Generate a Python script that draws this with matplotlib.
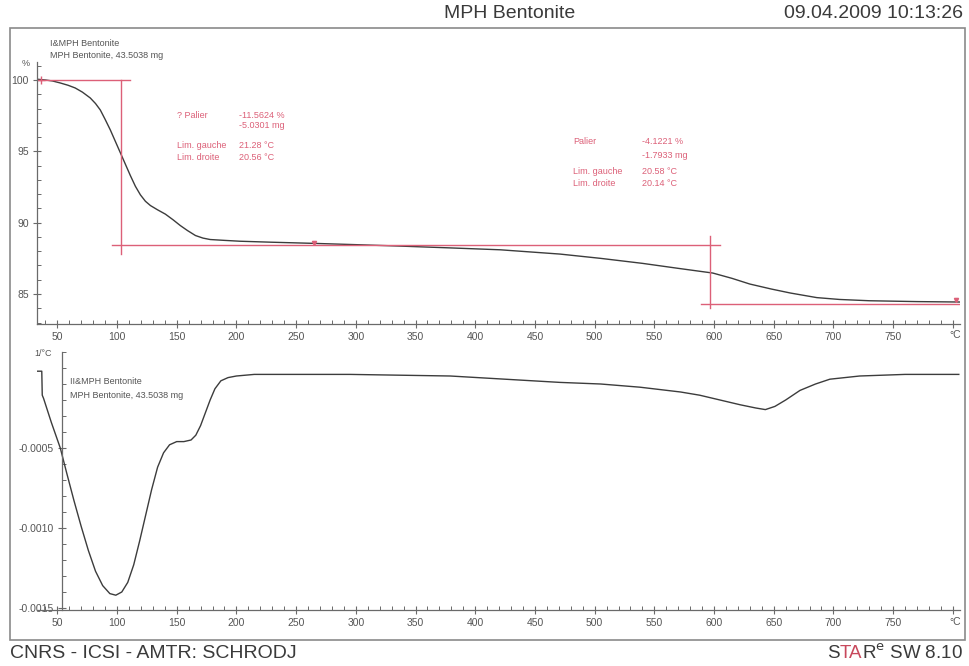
import numpy as np
import matplotlib
matplotlib.use("Agg")
from matplotlib import pyplot as plt
from matplotlib.patches import Rectangle
from matplotlib.ticker import MultipleLocator, FixedLocator

# TGA curve (temperature in degC, mass in %)
tga_t = [33.5, 40, 46, 52.5, 59, 65, 71, 77.6, 82, 86, 90, 94.4, 98.6, 102.8, 107,
         111.2, 115.4, 119.6, 123.8, 128, 134, 140.5, 147, 153, 159, 165.7, 172, 178,
         190, 203, 230, 265, 300, 337, 380, 421, 471, 505, 540, 570, 599, 615, 630,
         648, 664, 686, 705, 730, 770, 806]
tga_v = [100.05, 100.0, 99.93, 99.79, 99.63, 99.44, 99.15, 98.74, 98.35, 97.9, 97.25,
         96.5, 95.7, 94.9, 94.1, 93.3, 92.55, 91.95, 91.5, 91.2, 90.9, 90.6, 90.2,
         89.8, 89.45, 89.1, 88.92, 88.82, 88.76, 88.7, 88.63, 88.55, 88.46, 88.36,
         88.23, 88.1, 87.8, 87.5, 87.15, 86.8, 86.47, 86.1, 85.7, 85.35, 85.07, 84.75,
         84.62, 84.53, 84.47, 84.44]

# DTG curve (temperature in degC, 1/degC)
dtg_t = [33.5, 37, 37.4, 38.5, 45, 52.5, 58, 64, 70, 76, 82, 88, 94, 99, 104, 109,
         114, 119, 124, 129, 134, 139, 144, 150, 156, 162, 166, 170, 174, 178, 182,
         187, 193, 200, 215, 250, 295, 379, 471, 505, 538, 572, 588, 605, 622, 635,
         643, 651, 660, 672, 685, 697, 722, 760, 805]
dtg_v = [-0.00002, -0.00002, -0.00017, -0.00019, -0.00034, -0.0005, -0.00066, -0.00083,
         -0.00099, -0.00114, -0.00127, -0.00136, -0.00141, -0.00142, -0.0014, -0.00134,
         -0.00123, -0.00108, -0.00092, -0.00076, -0.00062, -0.00053, -0.00048, -0.00046,
         -0.00046, -0.00045, -0.00042, -0.00036, -0.00028, -0.0002, -0.00013, -0.00008,
         -0.00006, -0.00005, -0.00004, -0.00004, -0.00004, -0.00005, -0.00009, -0.0001,
         -0.00012, -0.00015, -0.00017, -0.0002, -0.00023, -0.00025, -0.00026, -0.00024,
         -0.0002, -0.00014, -0.0001, -0.00007, -0.00005, -0.00004, -0.00004]

step1 = ["? Palier", "-11.5624 %", "-5.0301 mg", "Lim. gauche", "21.28 °C", "Lim. droite", "20.56 °C"]
step2 = ["Palier", "-4.1221 %", "-1.7933 mg", "Lim. gauche", "20.58 °C", "Lim. droite", "20.14 °C"]

W, H = 969, 666
fig = plt.figure(figsize=(W / 100, H / 100), dpi=100)
fig.patch.set_facecolor("white")

gray = "#555555"
pink = "#dc6078"
curve = "#3c3c3c"
font = ["Liberation Sans", "DejaVu Sans"]


def fx(px):
    return px / W


def fy(py):
    return 1 - py / H


# outer frame
fig.add_artist(Rectangle((fx(10), fy(640)), fx(965) - fx(10), fy(28) - fy(640),
                         transform=fig.transFigure, fill=False, ec="#8a8a8a", lw=1.2))

ax1 = fig.add_axes([fx(37), fy(324), fx(960) - fx(37), fy(62) - fy(324)])
ax2 = fig.add_axes([fx(37), fy(610), fx(960) - fx(37), fy(352) - fy(610)])

for ax in (ax1, ax2):
    ax.set_facecolor("none")
    ax.set_xlim(33, 806)
    ax.spines["top"].set_visible(False)
    ax.spines["right"].set_visible(False)
    for s in ("left", "bottom"):
        ax.spines[s].set_color("#6a6a6a")
        ax.spines[s].set_linewidth(0.9)
    ax.xaxis.set_major_locator(FixedLocator(list(range(50, 801, 50))))
    ax.xaxis.set_minor_locator(MultipleLocator(10))
    ax.tick_params(which="major", direction="inout", length=6, width=0.8, colors="#6a6a6a",
                   labelsize=7.5, labelcolor=gray, pad=3)
    ax.tick_params(which="minor", direction="in", length=3, width=0.7, colors="#6a6a6a")
    ax.set_xticklabels([str(v) if v < 800 else "" for v in range(50, 801, 50)],
                       family=font)

# upper: TGA
ax1.set_ylim(82.9, 101.26)
ax1.yaxis.set_major_locator(FixedLocator([85, 90, 95, 100]))
ax1.yaxis.set_minor_locator(MultipleLocator(1))
ax1.set_yticklabels(["85", "90", "95", "100"], family=font)
ax1.plot(tga_t, tga_v, color=curve, lw=1.0)

# step evaluation lines
ax1.plot([33, 111], [100, 100], color=pink, lw=1)
ax1.plot([103, 103], [100, 87.8], color=pink, lw=1)
ax1.plot([96, 605], [88.44, 88.44], color=pink, lw=1)
ax1.plot([597, 597], [89.1, 84.0], color=pink, lw=1)
ax1.plot([589, 806], [84.32, 84.32], color=pink, lw=1)
ax1.plot([36], [100.0], marker="+", color=pink, ms=6, mew=1)
ax1.plot([265], [88.6], marker="v", color=pink, ms=3)
ax1.plot([803], [84.55], marker="v", color=pink, ms=3)

tkw = dict(fontsize=6.5, color=pink, family=font, va="center")
for (lab_x, val_x, ys), st in (((177, 239, (115, 126, 146, 157)), step1),
                              ((573, 642, (142, 155, 172, 184)), step2)):
    fig.text(fx(lab_x), fy(ys[0]), st[0], **tkw)
    fig.text(fx(val_x), fy(ys[0]), st[1], **tkw)
    fig.text(fx(val_x), fy(ys[1]), st[2], **tkw)
    fig.text(fx(lab_x), fy(ys[2]), st[3], **tkw)
    fig.text(fx(val_x), fy(ys[2]), st[4], **tkw)
    fig.text(fx(lab_x), fy(ys[3]), st[5], **tkw)
    fig.text(fx(val_x), fy(ys[3]), st[6], **tkw)

skw = dict(fontsize=6.5, color=gray, family=font, va="center")
fig.text(fx(50), fy(44), "I&MPH Bentonite", **skw)
fig.text(fx(50), fy(55), "MPH Bentonite, 43.5038 mg", **skw)
fig.text(fx(30), fy(63), "%", ha="right", **skw)

# lower: DTG
ax2.set_ylim(-0.0015125, 0.0001)
ax2.spines["left"].set_position(("data", 54))
ax2.yaxis.set_major_locator(FixedLocator([-0.0015, -0.0010, -0.0005]))
ax2.yaxis.set_minor_locator(MultipleLocator(0.0001))
ax2.set_yticklabels(["-0.0015", "-0.0010", "-0.0005"], family=font)
ax2.plot(dtg_t, dtg_v, color=curve, lw=1.0)

fig.text(fx(70), fy(382), "II&MPH Bentonite", **skw)
fig.text(fx(70), fy(395), "MPH Bentonite, 43.5038 mg", **skw)
fig.text(fx(52), fy(354), "1/°C", ha="right", **skw)

fig.text(fx(955), fy(335), "°C", ha="center", fontsize=7.5, color=gray, family=font, va="center")
fig.text(fx(955), fy(622), "°C", ha="center", fontsize=7.5, color=gray, family=font, va="center")

# header and footer
hkw = dict(fontsize=14, color="#3a3a3a", family=font, va="center")
fig.text(fx(510), fy(14), "MPH Bentonite", ha="center", **hkw)
fig.text(fx(963), fy(14), "09.04.2009 10:13:26", ha="right", **hkw)
fig.text(fx(10), fy(653), "CNRS - ICSI - AMTR: SCHRODJ", ha="left",
         fontsize=14, color="#3a3a3a", family=font, va="center")

# STARe SW 8.10 with red "TA"
fig.canvas.draw()
r = fig.canvas.get_renderer()
fkw = dict(fontsize=13.5, family=font, va="center")
t_end = fig.text(fx(963), fy(653), "R$^\\mathrm{e}$ SW 8.10", ha="right", color="#3a3a3a", **fkw)
bb = t_end.get_window_extent(r)
t_mid = fig.text(bb.x0 / W, fy(653), "TA", ha="right", color="#c8485c", **fkw)
bb2 = t_mid.get_window_extent(r)
fig.text(bb2.x0 / W, fy(653), "S", ha="right", color="#3a3a3a", **fkw)

fig.savefig("out.png", dpi=100)
